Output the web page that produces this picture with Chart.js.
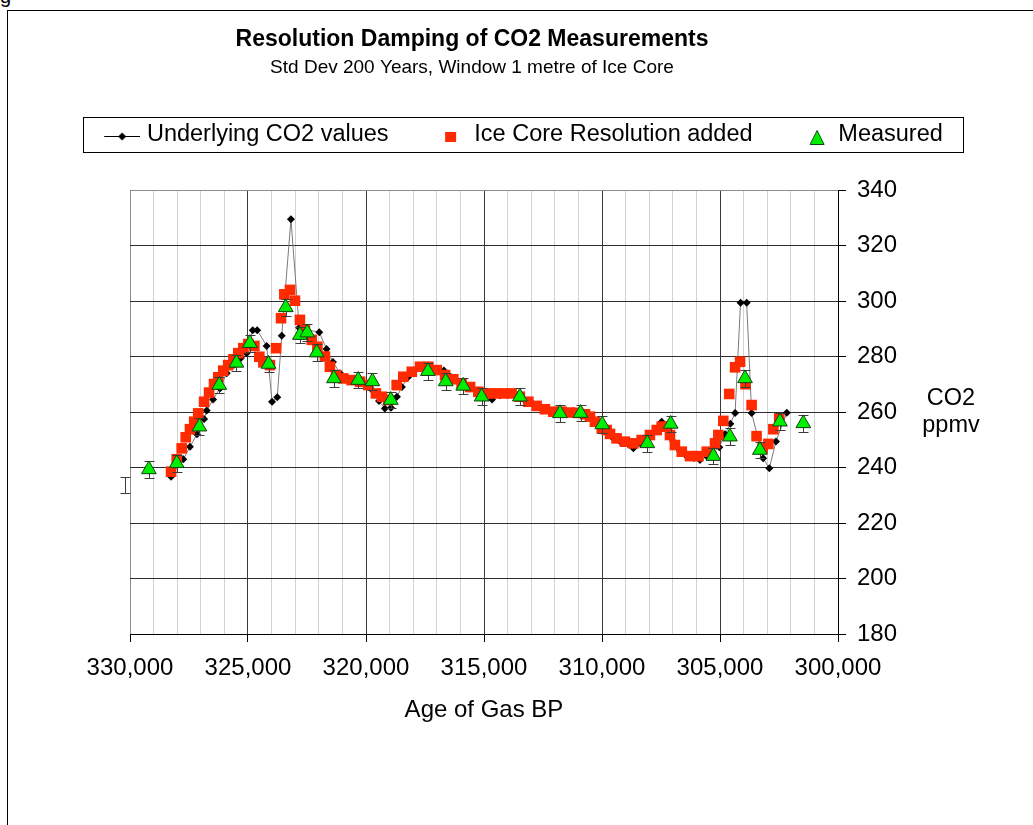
<!DOCTYPE html>
<html>
<head>
<meta charset="utf-8">
<title>Resolution Damping of CO2 Measurements</title>
<script src="https://cdn.jsdelivr.net/npm/chart.js@4.4.1/dist/chart.umd.min.js"></script>
<style>
  html, body { margin: 0; padding: 0; background: #fff; overflow: hidden; }
  #frame { position: absolute; left: 7px; top: 10px; width: 1100px; height: 900px; border: 1px solid #000; }
  #fig { position: absolute; left: 0; top: -15px; font: 20px 'Liberation Sans', Arial, sans-serif; color: #000; }
  #chart { position: absolute; left: 0; top: 0; }
</style>
</head>
<body>
<div id="frame"></div>
<div id="fig">g</div>
<canvas id="chart" width="1033" height="825"></canvas>
<script>
// -- Data (age in years BP, CO2 in ppmv) -------------------------------------

const UNDERLYING_AGE = [
  328260, 327740, 327460, 327160, 326860, 326750, 326480, 326190, 325900, 325590,
  325300, 325060, 324800, 324610, 324210, 323980, 323760, 323570, 323180, 322830,
  321980, 321670, 321400, 321100, 320760, 320420, 320090, 319750, 319450, 319200,
  318940, 318690, 318480, 318220, 317970, 317710, 317370, 317030, 316700, 316360,
  315980, 315640, 315250, 314920, 314660, 314320, 313980, 313640, 313310, 312920,
  312590, 312250, 311910, 311570, 311230, 310890, 310550, 310210, 309920, 309580,
  309240, 308900, 308670, 308350, 308010, 307710, 307470, 307250, 306990, 306700,
  306400, 306100, 305850, 305550, 305300, 305030, 304790, 304560, 304360, 304130,
  303870, 303660, 303170, 302910, 302630, 302170,
];
const UNDERLYING_CO2 = [
  236.7, 243, 247.5, 252, 257.5, 260.5, 264.5, 268.5, 274, 277,
  279.5, 281.2, 289.5, 289.5, 283.8, 263.7, 265.3, 287.5, 329.5, 290.4,
  288.7, 282.7, 278, 274, 272, 271, 270, 268, 264, 261.3,
  261.5, 265.5, 269, 272.5, 275, 276.5, 276.5, 275.5, 275, 272,
  270.5, 268.5, 266, 265.5, 264.5, 266, 266.5, 266, 264.5, 263,
  261.5, 260.5, 260, 259.5, 259.5, 259.5, 258.5, 256, 253.5, 251,
  249.5, 248.5, 246.9, 248.5, 250.5, 254, 256.5, 254, 249.5, 246,
  244, 243.5, 242.7, 244, 245.5, 247.3, 252, 255.8, 259.6, 299.4,
  299.4, 259.6, 243.3, 239.7, 249.4, 259.7,
];

const SMOOTHED_AGE = [
  328260, 328020, 327810, 327640, 327460, 327280, 327110, 326860, 326650, 326440,
  326260, 326050, 325840, 325620, 325410, 325200, 324990, 324730, 324520, 324350,
  324070, 323810, 323600, 323460, 323220, 323010, 322800, 322590, 322300, 322060,
  321740, 321530, 321270, 320960, 320610, 320250, 319900, 319580, 319320, 319060,
  318700, 318420, 318060, 317710, 317360, 317000, 316650, 316300, 315950, 315590,
  315240, 314890, 314530, 314180, 313830, 313480, 313120, 312770, 312420, 312060,
  311710, 311360, 311020, 310720, 310510, 310300, 310010, 309800, 309660, 309380,
  309030, 308670, 308320, 307970, 307680, 307470, 307260, 307120, 306910, 306620,
  306270, 305920, 305560, 305210, 305070, 304860, 304610, 304360, 304150, 303920,
  303660, 303450, 303190, 302950, 302740, 302490,
];
const SMOOTHED_CO2 = [
  238.5, 243, 246.9, 250.9, 253.8, 256.5, 259.5, 263.7, 267, 270.1,
  272.5, 274.9, 276.9, 279, 281.2, 283, 284.5, 283.8, 279.9, 277.9,
  276.9, 283, 293.8, 302.4, 304, 300.1, 293.2, 289.5, 286, 283.5,
  280, 276.3, 273.3, 272.1, 271.5, 270.9, 269.7, 266.7, 265.5, 264.3,
  269.7, 272.7, 274.5, 276.3, 276.3, 275.1, 273.3, 271.8, 270.3, 269,
  267.3, 266.7, 266.7, 266.7, 266.7, 265.5, 263.7, 262.2, 261, 260.1,
  260.1, 259.8, 259.7, 259.2, 258.3, 256.5, 254.1, 253.5, 252.1, 250.5,
  249.3, 248.7, 249.9, 251.7, 253.5, 254.7, 254.7, 251.7, 248.1, 245.7,
  244.1, 244.1, 245.7, 248.7, 251.7, 256.8, 266.5, 276.1, 278.1, 270,
  262.5, 251.3, 247, 248.5, 253.8, 257.7,
];

const MEASURED_AGE = [
  330200, 329200, 328020, 327060, 326220, 325490, 324920, 324130, 323400, 322800,
  322490, 322090, 321360, 320330, 319730, 318950, 317380, 316620, 315880, 315100,
  313480, 311780, 310910, 309990, 308080, 307090, 305280, 304580, 303940, 303310,
  302460, 301470,
];
const MEASURED_CO2 = [
  233.7, 239.3, 241.5, 254.7, 269.7, 277.7, 284.8, 277.3, 297.7, 287.7,
  288.6, 281.4, 272.1, 271.5, 271, 264.3, 274.7, 271, 269.4, 265.5,
  265.5, 259.5, 259.6, 255.5, 248.7, 255.7, 244.1, 251.1, 272.1, 246.3,
  256.5, 255.9,
];
const ERROR_BAR_PPM = 3;

const AGE_MIN = 300000;
const AGE_MAX = 330000;
const AGE_MAJOR = 5000;
const AGE_MINOR = 1000;
const CO2_MIN = 180;
const CO2_MAX = 340;
const CO2_STEP = 20;

const SERIES_LABELS = ['Underlying CO2 values', 'Ice Core Resolution added', 'Measured'];

// -- Styling ----------------------------------------------------------------

const RED = '#ff2a00';
const GREEN = '#00ee00';
const GREEN_EDGE = '#124012';
const FONT = '"Liberation Sans", Arial, sans-serif';
const MEASURED_INDEX = 2;
const TITLE_SHIFT = -12; // titles sit a little left of the plot centre

Chart.defaults.font.family = FONT;
Chart.defaults.color = '#000';

// -- Helpers ----------------------------------------------------------------

function toPoints(ages, values) {
  return ages.map((age, i) => ({ x: age, y: values[i] }));
}

/**
 * Small canvas used as a legend symbol, so the line + marker of the
 * first series can be shown like the original.
 */
function makeIcon(width, height, draw) {
  const c = document.createElement('canvas');
  c.width = width;
  c.height = height;
  draw(c.getContext('2d'));
  return c;
}

const LEGEND_ICONS = [
  makeIcon(55, 24, (g) => {
    g.strokeStyle = '#000';
    g.lineWidth = 1;
    g.beginPath();
    g.moveTo(19, 13.5);
    g.lineTo(55, 13.5);
    g.stroke();
    g.fillStyle = '#000';
    g.beginPath();
    g.moveTo(37, 9.5);
    g.lineTo(41, 13.5);
    g.lineTo(37, 17.5);
    g.lineTo(33, 13.5);
    g.closePath();
    g.fill();
  }),
  makeIcon(44, 24, (g) => {
    g.fillStyle = RED;
    g.fillRect(27, 9, 11, 10);
  }),
  makeIcon(44, 24, (g) => {
    g.fillStyle = GREEN;
    g.strokeStyle = GREEN_EDGE;
    g.lineWidth = 1;
    g.beginPath();
    g.moveTo(35, 7.5);
    g.lineTo(42, 21.5);
    g.lineTo(28, 21.5);
    g.closePath();
    g.fill();
    g.stroke();
  }),
];

// -- Plugins ----------------------------------------------------------------

// nudge title + subtitle left after layout
const titleShiftPlugin = {
  id: 'titleShift',
  afterLayout(chart) {
    const TitleClass = chart.titleBlock && chart.titleBlock.constructor;
    if (!TitleClass) return;
    chart.boxes.forEach((box) => {
      if (box.constructor === TitleClass) {
        box.left += TITLE_SHIFT;
        box.right += TITLE_SHIFT;
      }
    });
  },
};

// error bars drawn just before the triangles so the markers sit on top
const errorBarPlugin = {
  id: 'errorBars',
  beforeDatasetDraw(chart, args) {
    if (args.index !== MEASURED_INDEX) return;
    const { ctx } = chart;
    const { x, y } = chart.scales;
    ctx.save();
    ctx.strokeStyle = '#3c3c3c';
    ctx.lineWidth = 1;
    MEASURED_AGE.forEach((age, i) => {
      const px = Math.round(x.getPixelForValue(age)) + 0.5;
      const top = Math.round(y.getPixelForValue(MEASURED_CO2[i] + ERROR_BAR_PPM)) + 0.5;
      const bottom = Math.round(y.getPixelForValue(MEASURED_CO2[i] - ERROR_BAR_PPM)) + 0.5;
      ctx.beginPath();
      ctx.moveTo(px, top);
      ctx.lineTo(px, bottom);
      ctx.moveTo(px - 5, top);
      ctx.lineTo(px + 5, top);
      ctx.moveTo(px - 5, bottom);
      ctx.lineTo(px + 5, bottom);
      ctx.stroke();
    });
    ctx.restore();
  },
};

// legend frame and the horizontal "CO2 / ppmv" axis caption
const framePlugin = {
  id: 'legendFrame',
  afterDraw(chart) {
    const { ctx, chartArea, legend } = chart;
    const boxes = legend.legendHitBoxes;
    const first = boxes[0];
    const last = boxes[boxes.length - 1];
    const midY = first.top + first.height / 2;
    const left = Math.round(first.left - 7) + 0.5;
    const right = Math.round(last.left + last.width + 20) + 0.5;
    ctx.save();
    ctx.strokeStyle = '#000';
    ctx.lineWidth = 1;
    ctx.strokeRect(left, Math.round(midY - 18) + 0.5, right - left, 35);

    ctx.fillStyle = '#000';
    ctx.font = '23.5px ' + FONT;
    ctx.textAlign = 'center';
    ctx.textBaseline = 'middle';
    const cx = chartArea.right + 113;
    const cy = (chartArea.top + chartArea.bottom) / 2;
    ctx.fillText('CO2', cx, cy - 13);
    ctx.fillText('ppmv', cx, cy + 14);
    ctx.restore();
  },
};

// -- Chart ------------------------------------------------------------------

const hiddenAxis = {
  type: 'linear',
  grid: { display: false },
  ticks: { display: false },
  border: { display: false },
};

new Chart(document.getElementById('chart'), {
  type: 'scatter',
  data: {
    datasets: [
      {
        label: SERIES_LABELS[0],
        data: toPoints(UNDERLYING_AGE, UNDERLYING_CO2),
        showLine: true,
        borderColor: '#7a7a7a',
        borderWidth: 1,
        pointStyle: 'rectRot',
        pointRadius: 4,
        pointBackgroundColor: '#000',
        pointBorderColor: '#000',
        pointBorderWidth: 0,
        order: 3,
      },
      {
        label: SERIES_LABELS[1],
        data: toPoints(SMOOTHED_AGE, SMOOTHED_CO2),
        showLine: false,
        pointStyle: 'rect',
        pointRadius: 7.5,
        pointBackgroundColor: RED,
        pointBorderWidth: 0,
        order: 2,
      },
      {
        label: SERIES_LABELS[2],
        data: toPoints(MEASURED_AGE, MEASURED_CO2),
        showLine: false,
        pointStyle: 'triangle',
        // Excel hides the marker of the point beyond 330,000 but keeps its error bar
        pointRadius: (c) => (c.raw && c.raw.x > AGE_MAX ? 0 : 8.5),
        pointBackgroundColor: GREEN,
        pointBorderColor: GREEN_EDGE,
        pointBorderWidth: 1,
        order: 1,
      },
    ],
  },
  options: {
    responsive: false,
    animation: false,
    events: [],
    devicePixelRatio: 1,
    layout: { padding: 0 },
    scales: {
      x: {
        type: 'linear',
        position: 'bottom',
        reverse: true,
        min: AGE_MIN,
        max: AGE_MAX,
        afterFit: (s) => { s.height = 191; },
        ticks: {
          stepSize: AGE_MINOR,
          autoSkip: false,
          maxRotation: 0,
          minRotation: 0,
          padding: 12,
          font: { size: 24 },
          color: '#000',
          callback: (v) => (v % AGE_MAJOR === 0 ? v.toLocaleString('en-US') : ''),
        },
        grid: {
          color: (c) => {
            if (!c.tick) return '#d2d2d2';
            if (c.tick.value === AGE_MAX) return '#8c8c8c';
            return c.tick.value % AGE_MAJOR === 0 ? '#3a3a3a' : '#d2d2d2';
          },
          tickColor: (c) => (c.tick && c.tick.value % AGE_MAJOR === 0 ? '#000' : 'rgba(0,0,0,0)'),
          tickLength: 8,
          lineWidth: 1,
        },
        border: { display: true, color: '#000' },
        title: {
          display: true,
          text: 'Age of Gas BP',
          font: { size: 24 },
          color: '#000',
          padding: { top: 0, bottom: 100.6 },
        },
      },
      y: {
        type: 'linear',
        position: 'right',
        min: CO2_MIN,
        max: CO2_MAX,
        afterFit: (s) => { s.width = 195; },
        ticks: { stepSize: CO2_STEP, padding: 11, font: { size: 24 }, color: '#000' },
        grid: {
          color: (c) => (c.tick && c.tick.value === CO2_MAX ? '#8c8c8c' : '#2e2e2e'),
          tickColor: '#000',
          tickLength: 8,
        },
        border: { display: true, color: '#000' },
      },
      padLeft: { ...hiddenAxis, position: 'left', afterFit: (s) => { s.width = 130; } },
      padTop: { ...hiddenAxis, position: 'top', afterFit: (s) => { s.height = 33.25; } },
    },
    plugins: {
      title: {
        display: true,
        fullSize: false,
        text: 'Resolution Damping of CO2 Measurements',
        font: { size: 23, weight: 'bold' },
        color: '#000',
        padding: { top: 26.2, bottom: 0 },
      },
      subtitle: {
        display: true,
        fullSize: false,
        text: 'Std Dev 200 Years, Window 1 metre of Ice Core',
        font: { size: 19 },
        color: '#000',
        padding: { top: 2.8, bottom: 14.85 },
      },
      legend: {
        display: true,
        position: 'top',
        labels: {
          usePointStyle: true,
          pointStyleWidth: 45,
          padding: 29,
          font: { size: 23.5 },
          color: '#000',
          sort: (a, b) => a.datasetIndex - b.datasetIndex,
          generateLabels(chart) {
            const items = Chart.defaults.plugins.legend.labels.generateLabels(chart);
            items.forEach((item) => { item.pointStyle = LEGEND_ICONS[item.datasetIndex]; });
            return items;
          },
        },
      },
      tooltip: { enabled: false },
    },
  },
  plugins: [titleShiftPlugin, errorBarPlugin, framePlugin],
});
</script>
</body>
</html>
